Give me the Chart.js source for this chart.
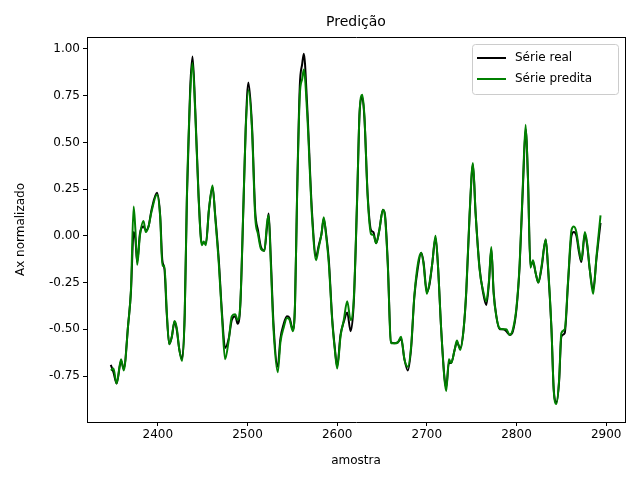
<!DOCTYPE html>
<html>
<head>
<meta charset="utf-8">
<script src="https://cdn.jsdelivr.net/npm/chart.js@4/dist/chart.umd.min.js"></script>
<style>
  body { margin: 0; background: #fff; }
  #wrap { width: 640px; height: 480px; }
</style>
</head>
<body>
<div id="wrap"><canvas id="chart" width="640" height="480"></canvas></div>
<script>
var amostras = [2347.5,2350.5,2354,2359,2362,2367,2370,2373,2375,2377,2380,2384,2386.6,2389.6,2393,2399,2402.6,2405,2407.4,2410,2412.7,2415.6,2418.6,2421,2424,2427,2430,2432.4,2436,2438.7,2441.7,2445.4,2449,2451,2453.6,2457,2461,2464,2468,2471.5,2475,2479,2482.5,2486.4,2489,2492,2495.7,2498,2501,2505,2508.6,2511.7,2515,2518.8,2521.8,2523.6,2526,2529,2533.7,2536.7,2540.4,2544,2547,2550.5,2553,2555.3,2558.3,2561,2562.8,2566.5,2572,2576.5,2579.5,2582.5,2585,2587.7,2590.7,2594.4,2597.4,2600,2603.7,2607.4,2611.2,2615,2618.6,2622.3,2625,2628,2630.4,2634,2637.8,2640.4,2643.4,2647,2651,2653.4,2656.4,2660,2663.9,2667.6,2671.3,2675,2678.8,2682.5,2686,2690,2693.7,2696.3,2700,2703,2706,2709.7,2712.3,2716,2719.7,2721.6,2724.6,2727.2,2731,2733.5,2737.2,2741,2744,2747.7,2751.4,2754.4,2758.8,2762.6,2766.3,2769.3,2771.9,2774.5,2777.5,2781.2,2785,2788.6,2792.4,2796,2800,2803.5,2807.3,2810.2,2812.8,2815.5,2818.4,2821.4,2824.4,2828,2832.6,2835,2839,2841.5,2844.5,2847.5,2850,2853.8,2857.5,2861.3,2863.9,2866.8,2869.8,2872.4,2876.2,2878.8,2881.7,2885.5,2889.2,2893.7];

var seriePredita = [-0.72,-0.71,-0.79,-0.66,-0.72,-0.47,-0.29,0.157,0.03,-0.155,0,0.08,0.02,0.05,0.13,0.22,0.10,-0.16,-0.16,-0.41,-0.58,-0.54,-0.455,-0.49,-0.61,-0.67,-0.41,0.21,0.75,0.925,0.66,0.21,-0.05,-0.03,-0.05,0.14,0.27,0.10,-0.15,-0.43,-0.66,-0.56,-0.43,-0.42,-0.45,-0.36,0.21,0.57,0.78,0.57,0.10,0.01,-0.07,-0.08,0.07,0.11,-0.15,-0.50,-0.73,-0.57,-0.49,-0.44,-0.45,-0.51,-0.36,0.21,0.75,0.84,0.89,0.66,0.10,-0.13,-0.06,0.01,0.10,0,-0.15,-0.45,-0.61,-0.71,-0.54,-0.45,-0.35,-0.45,-0.33,0.21,0.66,0.755,0.64,0.21,0.01,0.005,-0.04,0.03,0.14,0.10,-0.15,-0.575,-0.575,-0.57,-0.54,-0.66,-0.70,-0.59,-0.325,-0.15,-0.09,-0.15,-0.31,-0.25,-0.15,0,-0.15,-0.50,-0.77,-0.83,-0.66,-0.68,-0.61,-0.56,-0.61,-0.50,-0.29,0.12,0.39,0.12,-0.18,-0.29,-0.35,-0.24,-0.06,-0.31,-0.43,-0.495,-0.50,-0.50,-0.53,-0.50,-0.38,-0.15,0.30,0.595,0.30,-0.17,-0.13,-0.20,-0.25,-0.16,-0.02,-0.15,-0.50,-0.825,-0.90,-0.77,-0.52,-0.50,-0.24,0.03,0.05,0.02,-0.075,-0.13,0.02,-0.04,-0.18,-0.31,-0.11,0.11];

var serieReal = [-0.69,-0.73,-0.79,-0.67,-0.71,-0.47,-0.30,0.02,-0.02,-0.14,0.01,0.05,0.03,0.05,0.14,0.23,0.11,-0.13,-0.18,-0.42,-0.58,-0.54,-0.46,-0.50,-0.61,-0.66,-0.42,0.20,0.78,0.96,0.68,0.22,-0.04,-0.04,-0.04,0.14,0.26,0.11,-0.13,-0.41,-0.60,-0.55,-0.45,-0.43,-0.47,-0.37,0.20,0.58,0.82,0.59,0.13,0.03,-0.06,-0.08,0.05,0.12,-0.12,-0.47,-0.70,-0.55,-0.47,-0.43,-0.44,-0.50,-0.37,0.22,0.80,0.92,0.975,0.70,0.12,-0.11,-0.05,0.01,0.09,0.01,-0.13,-0.44,-0.60,-0.70,-0.53,-0.46,-0.41,-0.51,-0.35,0.20,0.66,0.74,0.63,0.22,0.03,0.02,-0.04,0.03,0.14,0.11,-0.14,-0.57,-0.575,-0.57,-0.55,-0.66,-0.72,-0.60,-0.33,-0.17,-0.09,-0.14,-0.30,-0.26,-0.15,-0.01,-0.15,-0.50,-0.76,-0.81,-0.68,-0.68,-0.61,-0.57,-0.60,-0.50,-0.30,0.11,0.38,0.12,-0.17,-0.30,-0.37,-0.25,-0.07,-0.30,-0.43,-0.50,-0.50,-0.51,-0.53,-0.51,-0.39,-0.16,0.28,0.57,0.31,-0.16,-0.14,-0.20,-0.25,-0.17,-0.02,-0.16,-0.50,-0.82,-0.89,-0.78,-0.54,-0.52,-0.25,0.00,0.02,0.00,-0.09,-0.14,0.01,-0.05,-0.18,-0.29,-0.12,0.07];

var xTicks = [2400,2500,2600,2700,2800,2900];
var yTicks = [-0.75,-0.50,-0.25,0.00,0.25,0.50,0.75,1.00];

function pontos(vals){
  var out=[];
  for(var i=0;i<amostras.length;i++){ out.push({x:amostras[i],y:vals[i]}); }
  return out;
}

var fonte = {family:'DejaVu Sans', size:12};

var legendaTitulo = {
  id:'legendaTitulo',
  afterDraw:function(chart){
    var c=chart.ctx, a=chart.chartArea;
    c.save();
    c.fillStyle='#000';
    c.font='14px "DejaVu Sans"';
    c.textAlign='center';
    c.textBaseline='middle';
    c.fillText('Predição',(a.left+a.right)/2,22);
    var w=146,h=50,x=a.right-w-7,y=a.top+7;
    c.fillStyle='rgba(255,255,255,0.8)';
    c.strokeStyle='#cccccc';
    c.lineWidth=1;
    c.beginPath();
    c.roundRect(x+0.5,y+0.5,w,h,3);
    c.fill();c.stroke();
    var itens=[['Série real','#000000'],['Série predita','#008000']];
    c.font='12px "DejaVu Sans"';
    c.textAlign='left';
    for(var i=0;i<itens.length;i++){
      var yy=y+14+i*21;
      c.strokeStyle=itens[i][1];
      c.lineWidth=2;
      c.beginPath();c.moveTo(x+5,yy);c.lineTo(x+34,yy);c.stroke();
      c.fillStyle='#000';
      c.fillText(itens[i][0],x+43,yy);
    }
    c.restore();
  }
};

var gradeEixo = {display:true,drawOnChartArea:false,drawTicks:true,tickLength:4,tickColor:'#000',tickWidth:1};

var ctx=document.getElementById('chart').getContext('2d');
new Chart(ctx,{
  type:'line',
  data:{
    datasets:[{
      label:'Série real',
      data:pontos(serieReal),
      borderColor:'#000000',
      borderWidth:2,
      pointRadius:0,
      order:2,
      cubicInterpolationMode:'monotone',
      fill:false
    },{
      label:'Série predita',
      data:pontos(seriePredita),
      borderColor:'#008000',
      borderWidth:2,
      pointRadius:0,
      order:1,
      cubicInterpolationMode:'monotone',
      fill:false
    }]
  },
  options:{
    responsive:false,
    animation:false,
    layout:{padding:{top:37,right:15,left:10,bottom:8}},
    plugins:{legend:{display:false},title:{display:false},tooltip:{enabled:false}},
    scales:{
      x:{
        type:'linear',min:2321,max:2921,
        grid:gradeEixo,
        border:{display:true,color:'#000',width:1},
        afterBuildTicks:function(ax){ax.ticks=xTicks.map(function(v){return {value:v};});},
        afterFit:function(ax){ax.height=50;},
        ticks:{color:'#000',font:fonte,maxRotation:0,padding:2,callback:function(v){return String(v);}},
        title:{display:true,text:'amostra',color:'#000',font:fonte,padding:{top:2}}
      },
      y:{
        type:'linear',min:-0.996,max:1.064,
        grid:gradeEixo,
        border:{display:true,color:'#000',width:1},
        afterBuildTicks:function(ax){ax.ticks=yTicks.map(function(v){return {value:v};});},
        afterFit:function(ax){ax.width=77;},
        ticks:{color:'#000',font:fonte,padding:3,callback:function(v){return v.toFixed(2);}},
        title:{display:true,text:'Ax normalizado',color:'#000',font:fonte,padding:{bottom:4}}
      },
      x2:{type:'linear',position:'top',display:true,grid:{display:false,drawTicks:false},border:{display:true,color:'#000'},ticks:{display:false},afterFit:function(ax){ax.height=0;}},
      y2:{type:'linear',position:'right',display:true,grid:{display:false,drawTicks:false},border:{display:true,color:'#000'},ticks:{display:false},afterFit:function(ax){ax.width=0;}}
    }
  },
  plugins:[legendaTitulo]
});
</script>
</body>
</html>
